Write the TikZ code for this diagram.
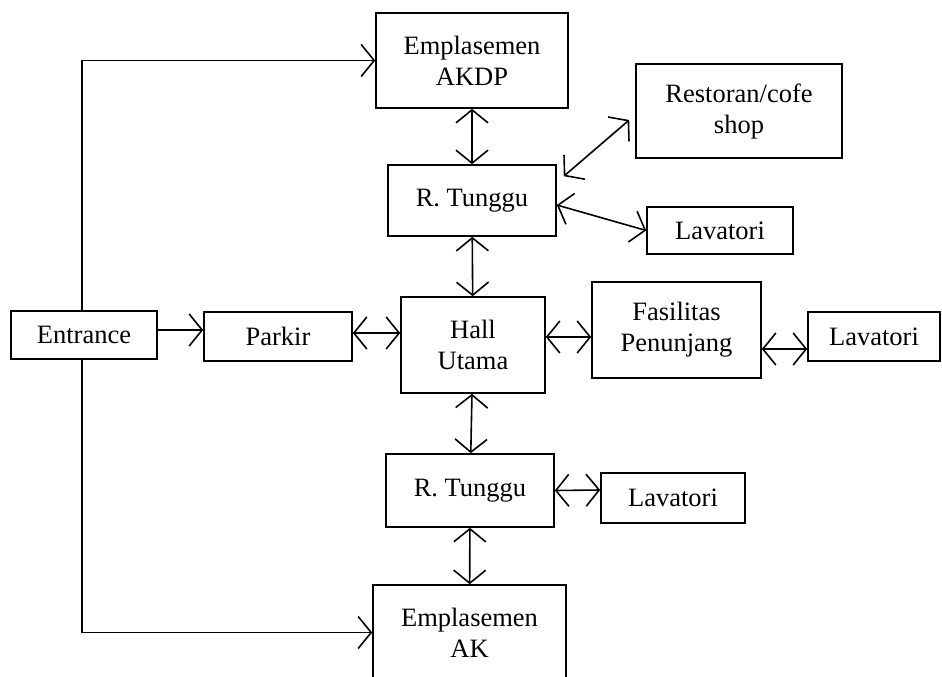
\documentclass[tikz,border=0pt]{standalone}
\usepackage{fontspec}
\setmainfont{Liberation Serif}
\usetikzlibrary{arrows.meta}

\begin{document}
\begin{tikzpicture}[x = 1pt, y = -1pt, line width = 1.6pt,
    box/.style = {shape = rectangle, draw, inner sep = 0pt, align = center, font = \fontsize{26.5}{31}\selectfont},
    >= {Straight Barb[length = 13pt, width = 32pt]}]
    \clip (0,0) rectangle (942,677);
    \node [box, minimum width = 192pt, minimum height = 95pt] (AKDP) at (472,60.5) {Emplasemen\\AKDP};
    \node [box, minimum width = 206pt, minimum height = 94pt] (Rest) at (739,111) {Restoran/cofe\\shop};
    \node [box, minimum width = 168pt, minimum height = 71pt] (RT1) at (472,200.5) {R. Tunggu};
    \node [box, minimum width = 146pt, minimum height = 47pt] (Lav1) at (720,230.5) {Lavatori};
    \node [box, minimum width = 146pt, minimum height = 48pt] (Entr) at (84,335) {Entrance};
    \node [box, minimum width = 148pt, minimum height = 49pt] (Park) at (278,336.5) {Parkir};
    \node [box, minimum width = 144pt, minimum height = 96pt] (Hall) at (473,345) {Hall\\Utama};
    \node [box, minimum width = 169pt, minimum height = 96pt] (Fas) at (676.5,330) {Fasilitas\\Penunjang};
    \node [box, minimum width = 132pt, minimum height = 49pt] (Lav2) at (874,336.5) {Lavatori};
    \node [box, minimum width = 168pt, minimum height = 73pt] (RT2) at (470,490.5) {R. Tunggu};
    \node [box, minimum width = 144pt, minimum height = 50pt] (Lav3) at (673,498) {Lavatori};
    \node [box, minimum width = 193pt, minimum height = 95pt] (AK) at (469.5,632.5) {Emplasemen\\AK};

    \draw [->] ([xshift = -2pt]Entr.north) |- (AKDP.west);
    \draw [->] ([xshift = -2pt]Entr.south) |- (AK.west);
    \draw [->] ([yshift = 5pt]Entr.east) -- ([yshift = 6.5pt]Park.west);
    \draw [<->] ([yshift = 3.5pt]Park.east) -- ([yshift = 12pt]Hall.west);
    \draw [<->] ([yshift = 8pt]Hall.east) -- ([yshift = -7pt]Fas.west);
    \draw [<->] ([yshift = -19pt]Fas.east) -- ([yshift = -12.5pt]Lav2.west);
    \draw [<->] (AKDP) -- (RT1);
    \draw [<->] (RT1) -- (Hall);
    \draw [<->] (Hall) -- (RT2);
    \draw [<->] (RT2) -- (AK);
    \draw [<->] ([xshift = 7pt, yshift = -12pt]RT1.north east) -- ([xshift = -6pt, yshift = -9pt]Rest.west);
    \draw [<->] ([yshift = -4.5pt]RT1.east) -- (Lav1.west);
    \draw [<->] (RT2.east) -- ([yshift = 8pt]Lav3.west);
\end{tikzpicture}
\end{document}
